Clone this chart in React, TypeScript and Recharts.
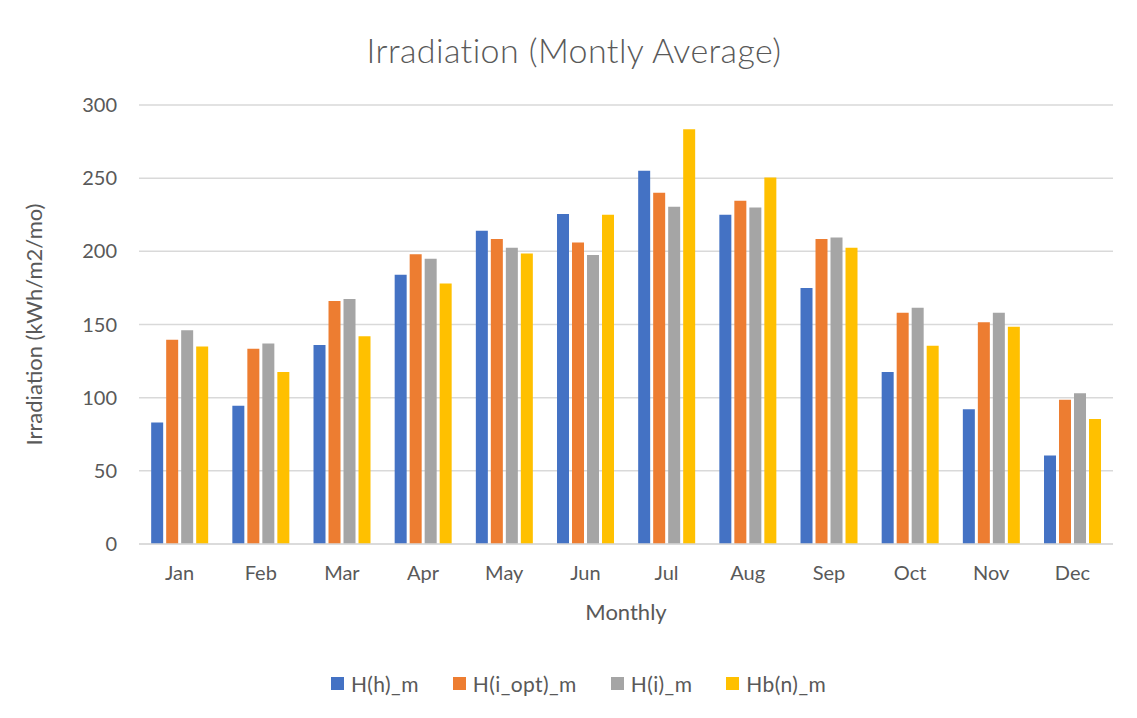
import { Bar, BarChart, CartesianGrid, Legend, XAxis, YAxis } from "recharts";

const months = ["Jan", "Feb", "Mar", "Apr", "May", "Jun", "Jul", "Aug", "Sep", "Oct", "Nov", "Dec"];
const hh = [83, 94.5, 136, 184, 214, 225.5, 255, 225, 175, 117.5, 92, 60.5];
const hiOpt = [139.5, 133.5, 166, 198, 208.5, 206, 240, 234.5, 208.5, 158, 151.5, 98.5];
const hi = [146, 137, 167.5, 195, 202.5, 197.5, 230.5, 230, 209.5, 161.5, 158, 103];
const hbn = [135, 117.5, 142, 178, 198.5, 225, 283.5, 250.5, 202.5, 135.5, 148.5, 85.5];
const yTicks = [0, 50, 100, 150, 200, 250, 300];

const series = [
  { key: "hh", name: "H(h)_m", color: "#4472C4" },
  { key: "hiOpt", name: "H(i_opt)_m", color: "#ED7D31" },
  { key: "hi", name: "H(i)_m", color: "#A5A5A5" },
  { key: "hbn", name: "Hb(n)_m", color: "#FFC000" },
];

const data = months.map((m, i) => ({
  month: m,
  hh: hh[i],
  hiOpt: hiOpt[i],
  hi: hi[i],
  hbn: hbn[i],
}));

const font = "Lato, 'Open Sans', sans-serif";
const textColor = "#595959";

function LegendContent() {
  return (
    <div style={{ display: "flex", justifyContent: "center", gap: 34, fontFamily: font, paddingLeft: 44 }}>
      {series.map((s) => (
        <div key={s.key} style={{ display: "flex", alignItems: "center", gap: 7 }}>
          <span style={{ width: 13, height: 13, background: s.color, display: "inline-block" }} />
          <span style={{ fontSize: 21, color: textColor, letterSpacing: 0.4 }}>{s.name}</span>
        </div>
      ))}
    </div>
  );
}

export default function App() {
  return (
    <div style={{ position: "relative", margin: -8, width: 1137, height: 718, background: "#fff", fontFamily: font }}>
      <div
        style={{
          position: "absolute",
          left: 3,
          top: 6,
          width: 1129,
          height: 709,
          border: "1px solid #d9d9d9",
          boxSizing: "border-box",
        }}
      />
      <div
        style={{
          position: "absolute",
          top: 29,
          left: 0,
          width: 1148,
          textAlign: "center",
          fontSize: 34,
          fontWeight: 300,
          color: textColor,
          letterSpacing: 0.4,
        }}
      >
        Irradiation (Montly Average)
      </div>
      <BarChart
        width={1137}
        height={718}
        data={data}
        margin={{ top: 105, right: 24, left: 0, bottom: 69 }}
        barCategoryGap="15%"
        barGap={3}
        style={{ position: "absolute", top: 0, left: 0 }}
      >
        <CartesianGrid vertical={false} stroke="#d9d9d9" strokeWidth={1.5} />
        <XAxis
          dataKey="month"
          height={80}
          tickLine={false}
          tickSize={0}
          tickMargin={22}
          axisLine={{ stroke: "#d9d9d9", strokeWidth: 1.5 }}
          tick={{ fontSize: 20, fill: textColor, fontFamily: font }}
          label={{ value: "Monthly", position: "insideBottom", offset: 4, fontSize: 22, fill: textColor, fontFamily: font }}
        />
        <YAxis
          width={139}
          domain={[0, 300]}
          ticks={yTicks}
          axisLine={false}
          tickLine={false}
          tickSize={0}
          tickMargin={22}
          tick={{ fontSize: 20, fill: textColor, fontFamily: font }}
          label={{
            value: "Irradiation (kWh/m2/mo)",
            angle: -90,
            position: "center",
            dx: -35,
            fontSize: 22,
            fill: textColor,
            fontFamily: font,
          }}
        />
        <Legend verticalAlign="bottom" content={LegendContent} wrapperStyle={{ bottom: 22 }} />
        {series.map((s) => (
          <Bar key={s.key} dataKey={s.key} name={s.name} fill={s.color} isAnimationActive={false} />
        ))}
      </BarChart>
    </div>
  );
}
